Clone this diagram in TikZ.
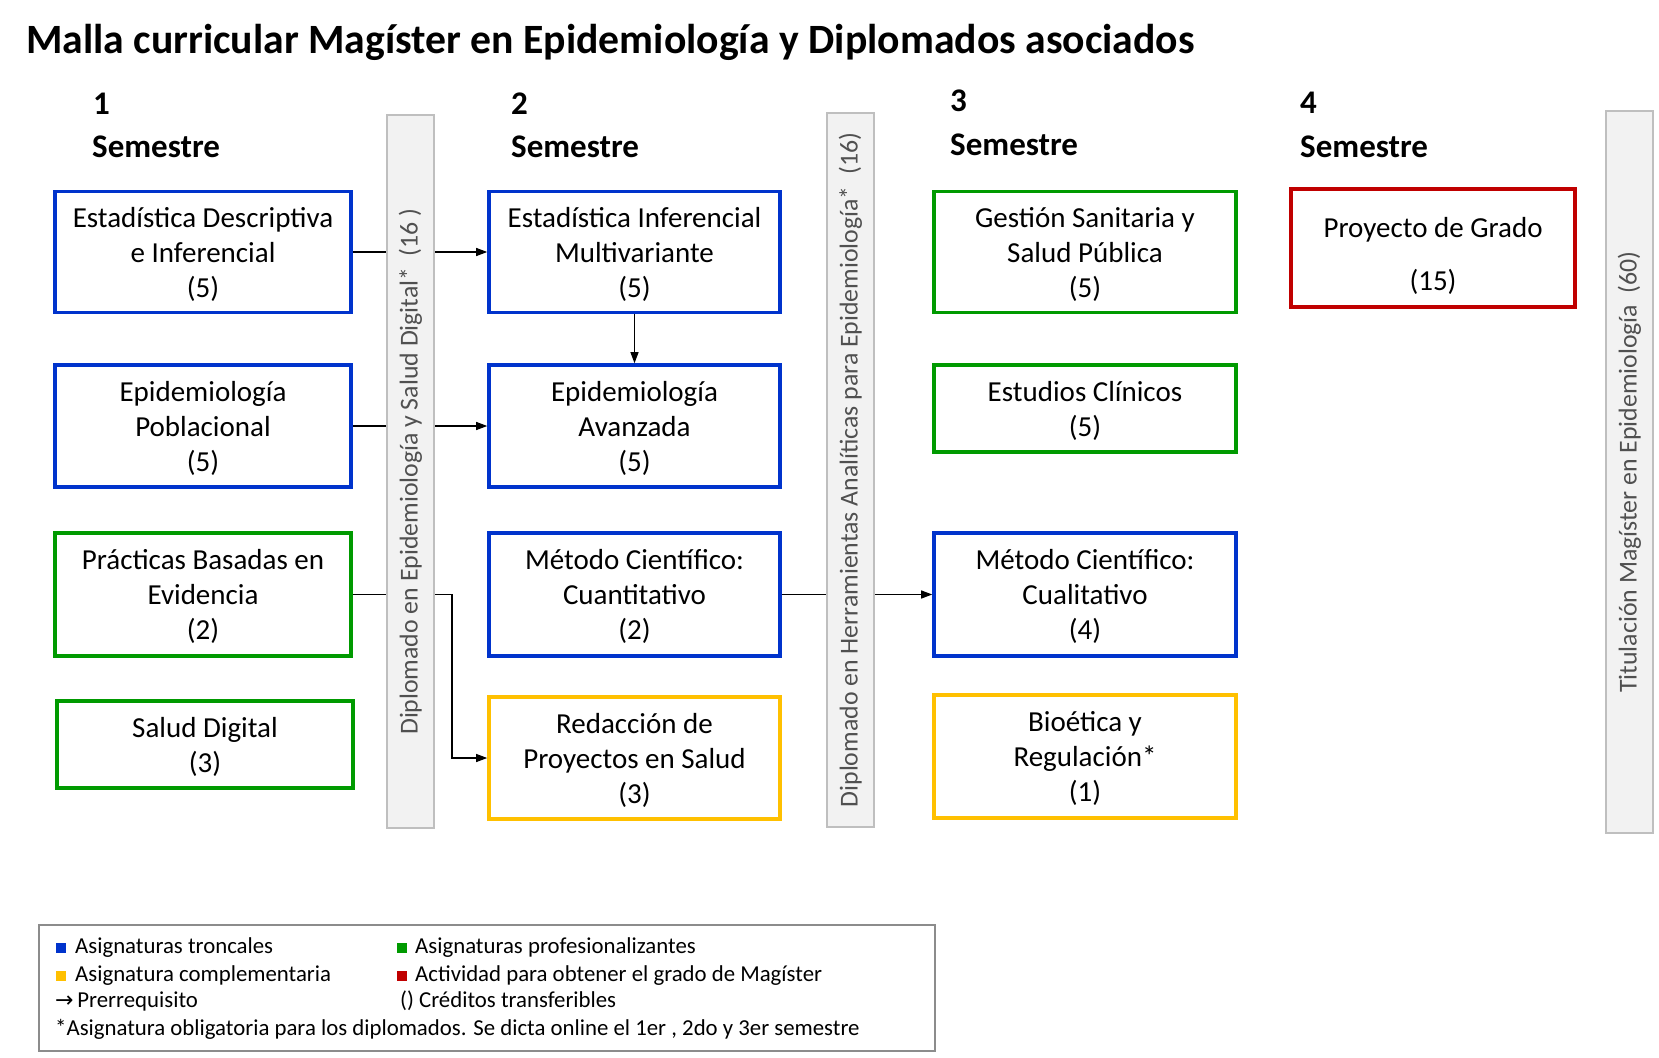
\documentclass[tikz,border=0pt]{standalone}
\usepackage{fontspec}
\setmainfont{Carlito}
\newfontfamily\arrowfont{DejaVu Sans}
\usetikzlibrary{arrows.meta,calc}
\definecolor{cblue}{HTML}{0033CC}
\definecolor{cgreen}{HTML}{009A00}
\definecolor{cyellow}{HTML}{FFC000}
\definecolor{cred}{HTML}{C00000}
\definecolor{barfill}{HTML}{F2F2F2}
\definecolor{barline}{HTML}{BFBFBF}
\definecolor{bartext}{HTML}{505050}
\definecolor{legline}{HTML}{8C8C8C}
\newcommand{\firstline}[1]{\rule{0pt}{#1}}
\tikzset{
  x=1pt, y=-1pt,
  course/.style={draw=#1, line width=3.6pt, fill=white, align=center, inner sep=0pt,
    font=\fontsize{29}{35}\selectfont},
  bar/.style={draw=barline, fill=barfill, line width=2.5pt},
  bartxt/.style={rotate=90, text=bartext, font=\fontsize{25.8}{30}\selectfont},
  semnum/.style={anchor=base west, inner sep=0pt, font=\fontsize{33}{40}\selectfont\bfseries},
  legtxt/.style={anchor=base west, inner sep=0pt, font=\fontsize{22.8}{27}\selectfont},
  conn/.style={draw=black, line width=1.1pt},
  arr/.style={conn, -{Triangle[length=11pt,width=8pt]}},
}
\begin{document}
\begin{tikzpicture}
\useasboundingbox (0,0) rectangle (1659,1057);
% title
\node[anchor=base west, inner sep=0pt, font=\fontsize{41.7}{48}\selectfont\bfseries] (title) at (26,53)
  {Malla curricular Magíster en Epidemiología y Diplomados asociados};
% semester headers
\node[semnum] (n1) at (93,114) {1};
\node[semnum] (s1) at (92,157.5) {Semestre};
\node[semnum] (n2) at (511,114) {2};
\node[semnum] (s2) at (511,157.5) {Semestre};
\node[semnum] (n3) at (950,111) {3};
\node[semnum] (s3) at (950,155.5) {Semestre};
\node[semnum] (n4) at (1300,113.5) {4};
\node[semnum] (s4) at (1300,157.5) {Semestre};
% column 1
\node[course=cblue, minimum width=296pt, minimum height=121pt] (ed) at (203,252) {\firstline{25pt}Estadística Descriptiva\\e Inferencial\\(5)};
\node[course=cblue, minimum width=296pt, minimum height=122pt] (ep) at (203,426) {\firstline{25pt}Epidemiología\\Poblacional\\(5)};
\node[course=cgreen, minimum width=296pt, minimum height=123pt] (pb) at (203,594.5) {\firstline{25pt}Prácticas Basadas en\\Evidencia\\(2)};
\node[course=cgreen, minimum width=296pt, minimum height=87pt] (sd) at (205,744.5) {\firstline{25pt}Salud Digital\\(3)};
% column 2
\node[course=cblue, minimum width=291pt, minimum height=121pt] (ei) at (634.5,252) {\firstline{25pt}Estadística Inferencial\\Multivariante\\(5)};
\node[course=cblue, minimum width=291pt, minimum height=122pt] (ea) at (634.5,426) {\firstline{25pt}Epidemiología\\Avanzada\\(5)};
\node[course=cblue, minimum width=291pt, minimum height=123pt] (mc) at (634.5,594.5) {\firstline{25pt}Método Científico:\\Cuantitativo\\(2)};
\node[course=cyellow, minimum width=291pt, minimum height=122pt] (rp) at (634.5,758) {\firstline{25pt}Redacción de\\Proyectos en Salud\\(3)};
% column 3
\node[course=cgreen, minimum width=302pt, minimum height=121pt] (gs) at (1085,252) {\firstline{25pt}Gestión Sanitaria y\\Salud Pública\\(5)};
\node[course=cgreen, minimum width=302pt, minimum height=87pt] (ec) at (1085,408.5) {\firstline{25pt}Estudios Clínicos\\(5)};
\node[course=cblue, minimum width=302pt, minimum height=123pt] (mq) at (1085,594.5) {\firstline{25pt}Método Científico:\\Cualitativo\\(4)};
\node[course=cyellow, minimum width=302pt, minimum height=123pt] (bi) at (1085,756.5) {\firstline{25pt}Bioética y\\Regulación*\\(1)};
% column 4
\node[course=cred, minimum width=284pt, minimum height=118pt] (pg) at (1433,248) {\firstline{37pt}Proyecto de Grado\\[18pt](15)};
% connectors (drawn under the bars)
\coordinate (k1) at (452,594.5);
\draw[arr] (ed.east) -- (ei.west);
\draw[arr] (ep.east) -- (ea.west);
\draw[arr] (pb.east) -- (k1) |- (rp.west);
\draw[arr] (ei.south) -- (ea.north);
\draw[arr] (mc.east) -- (mq.west);
% bars
\draw[bar] (387,115) rectangle (434,828);
\node[bartxt] (b1) at (410.5,471.5) {Diplomado en Epidemiología y Salud Digital*\ \ (16 )};
\draw[bar] (827,113) rectangle (874,827);
\node[bartxt] (b2) at (850.5,470) {Diplomado en Herramientas Analíticas para Epidemiología*\ \ (16)};
\draw[bar] (1606,111) rectangle (1653,833);
\node[bartxt] (b3) at (1629.5,472) {Titulación Magíster en Epidemiología\ \ (60)};
% legend
\draw[draw=legline, line width=1.8pt] (39,925) rectangle (935,1051);
\fill[cblue] (56,943) rectangle (66,953);
\node[legtxt] (l1) at (75,953.5) {Asignaturas troncales};
\fill[cgreen] (397,943) rectangle (407,953);
\node[legtxt] (l2) at (415,953.5) {Asignaturas profesionalizantes};
\fill[cyellow] (56,971) rectangle (66,981);
\node[legtxt] (l3) at (75,981.5) {Asignatura complementaria};
\fill[cred] (397,971) rectangle (407,981);
\node[legtxt] (l4) at (415,981.5) {Actividad para obtener el grado de Magíster};
\node[legtxt] (l5) at (55,1007.5) {{\arrowfont\fontsize{22}{27}\selectfont →}\,Prerrequisito};
\node[legtxt] (l6) at (400,1007.5) {() Créditos transferibles};
\node[legtxt] (l7) at (55,1035.5) {*Asignatura obligatoria para los diplomados. Se dicta online el 1er , 2do y 3er semestre};
\end{tikzpicture}
\end{document}
